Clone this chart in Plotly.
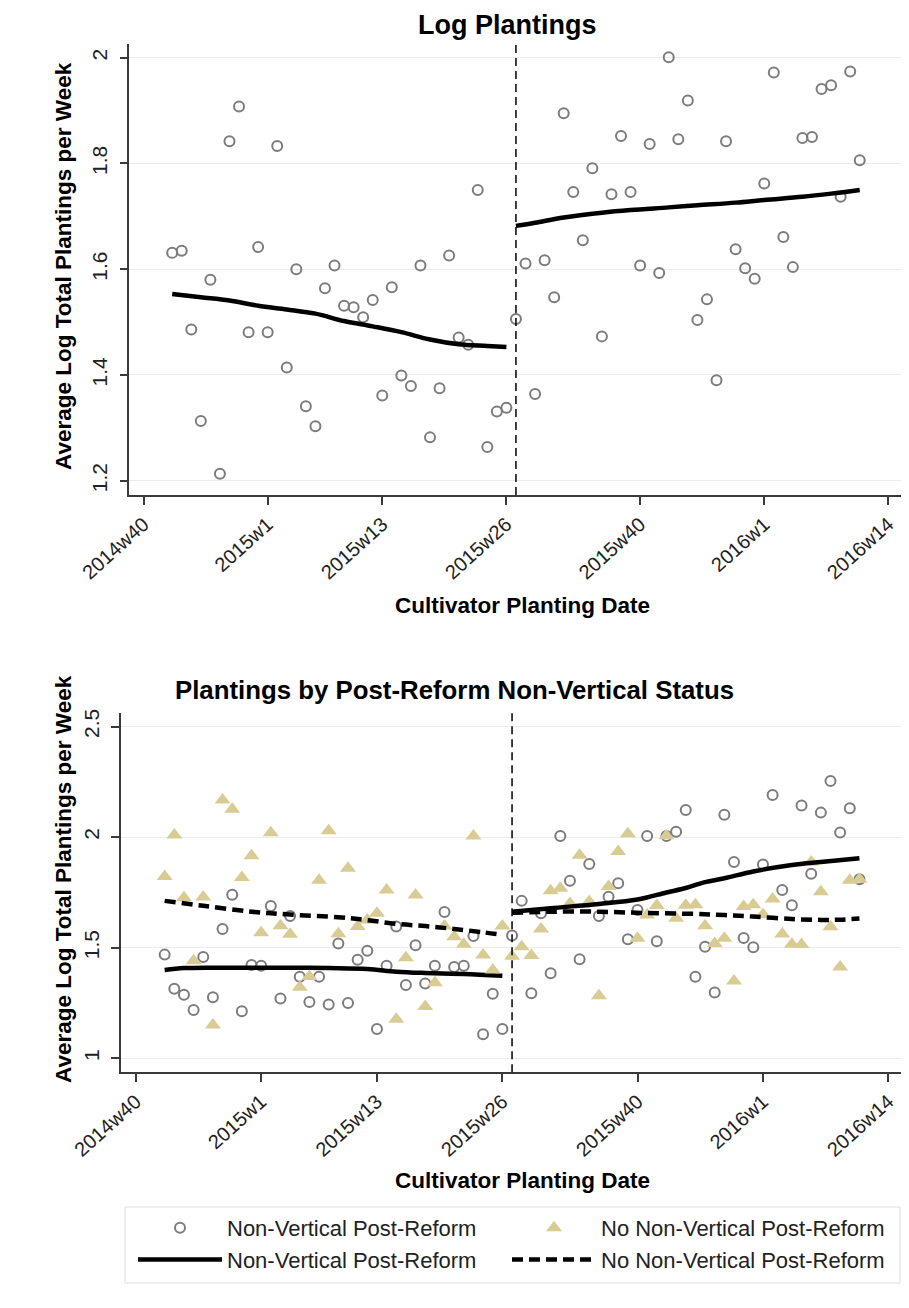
import plotly.graph_objects as go

# ---------------- data ----------------
# weeks counted from 2014w40 (Stata weekly dates, 52 weeks/year)
tick_vals = [0, 13, 25, 38, 52, 65, 78]
tick_text = ["2014w40", "2015w1", "2015w13", "2015w26", "2015w40", "2016w1", "2016w14"]
reform_week = 39

# Top panel: log plantings
top_weeks = list(range(3, 76))
top_vals = [1.631, 1.635, 1.486, 1.313, 1.580, 1.213, 1.842, 1.908, 1.481, 1.642,
            1.481, 1.833, 1.414, 1.600, 1.341, 1.303, 1.564, 1.607, 1.531, 1.528,
            1.509, 1.542, 1.361, 1.566, 1.399, 1.379, 1.607, 1.282, 1.375, 1.626,
            1.471, 1.457, 1.750, 1.264, 1.331, 1.338,
            1.506, 1.611, 1.364, 1.617, 1.547, 1.895, 1.746, 1.655, 1.791, 1.473,
            1.742, 1.852, 1.746, 1.607, 1.837, 1.593, 2.001, 1.846, 1.919, 1.504,
            1.543, 1.390, 1.842, 1.638, 1.602, 1.582, 1.762, 1.972, 1.661, 1.604,
            1.848, 1.850, 1.941, 1.948, 1.737, 1.974, 1.806]

top_pre_fit_weeks = [3, 6, 9, 12, 15, 18, 21, 24, 27, 30, 33, 36, 38]
top_pre_fit_vals = [1.553, 1.547, 1.541, 1.531, 1.524, 1.516, 1.502, 1.492, 1.481,
                    1.467, 1.458, 1.455, 1.453]
top_post_fit_weeks = [39, 41, 44, 48, 51, 55, 58, 62, 65, 69, 72, 75]
top_post_fit_vals = [1.682, 1.688, 1.698, 1.707, 1.712, 1.717, 1.721, 1.726, 1.731,
                     1.737, 1.743, 1.750]

# Bottom panel: by post-reform non-vertical status
bot_weeks = list(range(3, 76))
nv_vals = [1.469, 1.315, 1.288, 1.219, 1.458, 1.276, 1.585, 1.740, 1.213, 1.422,
           1.419, 1.689, 1.271, 1.644, 1.369, 1.255, 1.369, 1.244, 1.519, 1.250,
           1.446, 1.487, 1.133, 1.419, 1.596, 1.332, 1.511, 1.338, 1.419, 1.662,
           1.413, 1.419, 1.553, 1.109, 1.292, 1.133,
           1.555, 1.712, 1.294, 1.656, 1.385, 2.005, 1.803, 1.448, 1.879, 1.644,
           1.731, 1.792, 1.538, 1.671, 2.005, 1.529, 2.005, 2.024, 2.123, 1.369,
           1.505, 1.298, 2.101, 1.888, 1.544, 1.502, 1.877, 2.191, 1.761, 1.692,
           2.143, 1.835, 2.111, 2.254, 2.021, 2.131, 1.810]
nonv_vals = [1.822, 2.010, 1.726, 1.441, 1.729, 1.151, 2.168, 2.126, 1.818, 1.916,
             1.568, 2.020, 1.599, 1.561, 1.321, 1.370, 1.805, 2.029, 1.563, 1.859,
             1.596, 1.626, 1.656, 1.761, 1.177, 1.455, 1.739, 1.234, 1.342, 1.598,
             1.550, 1.516, 2.005, 1.467, 1.400, 1.598,
             1.462, 1.505, 1.465, 1.585, 1.758, 1.769, 1.700, 1.918, 1.709, 1.283,
             1.777, 1.935, 2.015, 1.543, 1.648, 1.691, 2.006, 1.633, 1.692, 1.694,
             1.600, 1.519, 1.543, 1.350, 1.686, 1.694, 1.650, 1.721, 1.562, 1.516,
             1.515, 1.888, 1.753, 1.595, 1.413, 1.805, 1.810]

nv_pre_fit_weeks = [3, 5, 8, 12, 16, 20, 24, 27, 30, 34, 38]
nv_pre_fit_vals = [1.400, 1.408, 1.410, 1.410, 1.410, 1.408, 1.404, 1.392, 1.386, 1.381, 1.373]
nv_post_fit_weeks = [39, 43, 48, 52, 55, 57, 59, 61, 64, 68, 71, 75]
nv_post_fit_vals = [1.663, 1.679, 1.698, 1.718, 1.750, 1.770, 1.797, 1.814, 1.845, 1.874,
                    1.888, 1.905]
nonv_pre_fit_weeks = [3, 7, 12, 16, 21, 24, 27, 30, 33, 36, 38]
nonv_pre_fit_vals = [1.712, 1.690, 1.663, 1.650, 1.638, 1.625, 1.608, 1.598, 1.585, 1.570, 1.558]
nonv_post_fit_weeks = [39, 43, 48, 53, 58, 61, 64, 68, 71, 73, 75]
nonv_post_fit_vals = [1.658, 1.663, 1.663, 1.657, 1.653, 1.648, 1.641, 1.630, 1.626, 1.627, 1.632]

# ---------------- styling ----------------
PAGE_OFF = 8          # default body margin of the html page
W, H = 909 - PAGE_OFF, 1308 - PAGE_OFF
FONT = "Liberation Sans, Arial, Helvetica, sans-serif"
GREY = "#7c7c7c"
SAND = "#d8cc94"
AXIS = "#3a3a3a"
GRID = "#ececec"


def px_x(p):
    return (p - PAGE_OFF) / W


def px_y(p):
    return 1 - (p - PAGE_OFF) / H


fig = go.Figure()

circle_marker = dict(symbol="circle-open", size=10, color=GREY, line=dict(width=2, color=GREY))
tri_marker = dict(symbol="triangle-up", size=14, color=SAND, line=dict(width=0))
solid = dict(color="black", width=4.5, shape="spline")
dashed = dict(color="black", width=4.5, dash="11px,6px", shape="spline")

# top panel
fig.add_trace(go.Scatter(x=top_weeks, y=top_vals, mode="markers", marker=circle_marker,
                         xaxis="x", yaxis="y", showlegend=False))
fig.add_trace(go.Scatter(x=top_pre_fit_weeks, y=top_pre_fit_vals, mode="lines", line=solid,
                         xaxis="x", yaxis="y", showlegend=False))
fig.add_trace(go.Scatter(x=top_post_fit_weeks, y=top_post_fit_vals, mode="lines", line=solid,
                         xaxis="x", yaxis="y", showlegend=False))

# bottom panel
fig.add_trace(go.Scatter(x=bot_weeks, y=nv_vals, mode="markers", marker=circle_marker,
                         name="Non-Vertical Post-Reform", xaxis="x2", yaxis="y2", legend="legend"))
fig.add_trace(go.Scatter(x=nv_pre_fit_weeks, y=nv_pre_fit_vals, mode="lines", line=solid,
                         name="Non-Vertical Post-Reform", xaxis="x2", yaxis="y2", legend="legend"))
fig.add_trace(go.Scatter(x=bot_weeks, y=nonv_vals, mode="markers", marker=tri_marker,
                         name="No Non-Vertical Post-Reform", xaxis="x2", yaxis="y2", legend="legend2"))
fig.add_trace(go.Scatter(x=nonv_pre_fit_weeks, y=nonv_pre_fit_vals, mode="lines", line=dashed,
                         name="No Non-Vertical Post-Reform", xaxis="x2", yaxis="y2", legend="legend2"))
fig.add_trace(go.Scatter(x=nv_post_fit_weeks, y=nv_post_fit_vals, mode="lines", line=solid,
                         xaxis="x2", yaxis="y2", showlegend=False))
fig.add_trace(go.Scatter(x=nonv_post_fit_weeks, y=nonv_post_fit_vals, mode="lines", line=dashed,
                         xaxis="x2", yaxis="y2", showlegend=False))

xaxis_common = dict(
    tickmode="array", tickvals=tick_vals, ticktext=tick_text, tickangle=-42,
    ticks="outside", ticklen=8, tickwidth=1.5, tickcolor=AXIS,
    showline=True, linecolor=AXIS, linewidth=1.5, showgrid=False, zeroline=False,
    tickfont=dict(family=FONT, size=20, color="#222"), automargin=False,
)
yaxis_common = dict(
    tickangle=-90, ticks="outside", ticklen=8, tickwidth=1.5, tickcolor=AXIS,
    showline=True, linecolor=AXIS, linewidth=1.5, showgrid=True, gridcolor=GRID,
    gridwidth=1, zeroline=False, tickfont=dict(family=FONT, size=21, color="#222"),
    ticklabelstandoff=4, automargin=False,
)
legend_common = dict(
    orientation="v", xanchor="left", yanchor="top", borderwidth=0,
    bgcolor="rgba(0,0,0,0)", font=dict(family=FONT, size=22, color="#222"),
    itemwidth=84, traceorder="normal", tracegroupgap=0,
)

fig.update_layout(
    width=W, height=H,
    margin=dict(l=0, r=0, t=0, b=0),
    paper_bgcolor="white", plot_bgcolor="white",
    font=dict(family=FONT, color="#222"),
    xaxis=dict(**xaxis_common, domain=[px_x(129.3), px_x(903)], range=[-1.49, 79.53], anchor="y"),
    yaxis=dict(**yaxis_common, domain=[px_y(495), px_y(44)], range=[1.173, 2.026],
               tickvals=[1.2, 1.4, 1.6, 1.8, 2.0], ticktext=["1.2", "1.4", "1.6", "1.8", "2"], anchor="x"),
    xaxis2=dict(**xaxis_common, domain=[px_x(120.7), px_x(902)], range=[-1.555, 79.41], anchor="y2"),
    yaxis2=dict(**yaxis_common, domain=[px_y(1072.3), px_y(713.3)], range=[0.937, 2.56],
                tickvals=[1, 1.5, 2, 2.5], ticktext=["1", "1.5", "2", "2.5"], anchor="x2"),
    legend=dict(**legend_common, x=px_x(133), y=px_y(1207)),
    legend2=dict(**legend_common, x=px_x(507), y=px_y(1207)),
    shapes=[
        dict(type="line", xref="x", yref="y domain", x0=reform_week, x1=reform_week, y0=0, y1=1,
             line=dict(color="black", width=1.5, dash="8px,5px")),
        dict(type="line", xref="x2", yref="y2 domain", x0=reform_week, x1=reform_week, y0=0, y1=1,
             line=dict(color="black", width=1.5, dash="8px,5px")),
        dict(type="rect", xref="paper", yref="paper", x0=px_x(125), x1=px_x(900),
             y0=px_y(1283), y1=px_y(1207), line=dict(color="#dedede", width=1), layer="below"),
    ],
)

ann = [
    dict(text="<b>Log Plantings</b>", x=px_x(508), y=px_y(25), size=27),
    dict(text="<b>Plantings by Post-Reform Non-Vertical Status</b>", x=px_x(454), y=px_y(690), size=25.8),
    dict(text="<b>Cultivator Planting Date</b>", x=px_x(522), y=px_y(605), size=22.5),
    dict(text="<b>Cultivator Planting Date</b>", x=px_x(522), y=px_y(1180), size=22.5),
]
for a in ann:
    fig.add_annotation(text=a["text"], x=a["x"], y=a["y"], xref="paper", yref="paper",
                       showarrow=False, xanchor="center", yanchor="middle",
                       font=dict(family=FONT, size=a["size"], color="black"))
for yc in (266, 879):
    fig.add_annotation(text="<b>Average Log Total Plantings per Week</b>", x=px_x(63), y=px_y(yc),
                       xref="paper", yref="paper", showarrow=False, textangle=-90,
                       xanchor="center", yanchor="middle",
                       font=dict(family=FONT, size=22.5, color="black"))

fig.write_html("out.html")
